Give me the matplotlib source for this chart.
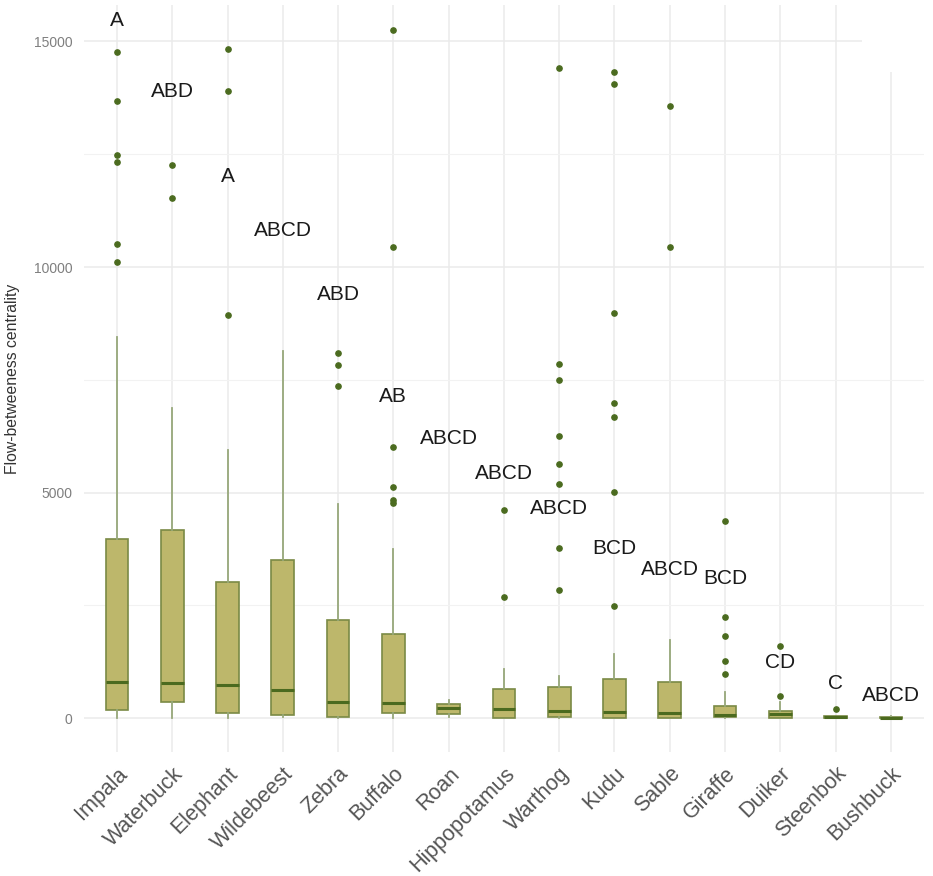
import matplotlib
matplotlib.use("Agg")
import matplotlib.pyplot as plt
from matplotlib.patches import Rectangle
import numpy as np

plt.rcParams['font.family'] = ['Liberation Sans', 'DejaVu Sans']

species = ["Impala", "Waterbuck", "Elephant", "Wildebeest", "Zebra", "Buffalo", "Roan",
           "Hippopotamus", "Warthog", "Kudu", "Sable", "Giraffe", "Duiker", "Steenbok", "Bushbuck"]
q1 = [184, 368, 110, 66, 35, 110, 95, 0, 35, 0, 0, 35, 13, 5, 5]
median = [804, 782, 738, 634, 368, 339, 221, 199, 169, 146, 110, 73, 95, 20, 15]
q3 = [3973, 4180, 3027, 3501, 2178, 1868, 310, 643, 700, 871, 798, 266, 169, 40, 35]
whislo = [0, 0, 0, 20, 0, 0, 35, 0, 0, 0, 0, 0, 0, 0, 0]
whishi = [8450, 6883, 5946, 8140, 4749, 3745, 405, 1092, 937, 1418, 1735, 576, 361, 45, 40]
outliers = [
    [14758, 13680, 12483, 12328, 10510, 10118],
    [12261, 11523],
    [14832, 13908, 8944],
    [],
    [8088, 7836, 7370],
    [15243, 10437, 6005, 5119, 4838, 4778],
    [],
    [4623, 2688],
    [14417, 7845, 7497, 6249, 5635, 5192, 3767, 2836],
    [14322, 14049, 8988, 6980, 6684, 5015, 2488],
    [13575, 10437],
    [4379, 2238, 1824, 1263, 988],
    [1602, 501],
    [213],
    [],
]
letters = ["A", "ABD", "A", "ABCD", "ABD", "AB", "ABCD", "ABCD", "ABCD", "BCD", "ABCD", "BCD", "CD", "C", "ABCD"]
letter_y = [15474, 13886, 12002, 10799, 9402, 7127, 6205, 5429, 4638, 3752, 3286, 3102, 1232, 776, 501]

fig = plt.figure(figsize=(9.33, 8.76), dpi=100)
ax = fig.add_axes([0.0898, 0.1416, 0.9006, 0.8527])

pos = np.arange(1, len(species) + 1)
stats = []
for i in range(len(species)):
    stats.append(dict(med=median[i], q1=q1[i], q3=q3[i], whislo=whislo[i], whishi=whishi[i],
                      fliers=outliers[i], label=species[i]))

ax.bxp(stats, positions=pos, widths=0.41, showcaps=False, patch_artist=True,
       boxprops=dict(facecolor='#bdb76b', edgecolor='#7a8a45', linewidth=1.2),
       whiskerprops=dict(color='#97a87a', linewidth=1.3),
       medianprops=dict(color='#4b6a1f', linewidth=2.2, solid_capstyle='butt'),
       flierprops=dict(marker='o', markersize=3.8, markerfacecolor='#4b6b1f',
                       markeredgecolor='#4b6b1f', linestyle='none'),
       zorder=3)

for i, (t, yv) in enumerate(zip(letters, letter_y)):
    ax.text(pos[i], yv, t, ha='center', va='center', fontsize=15, color='#1a1a1a', zorder=4)

ax.set_xlim(0.4, len(species) + 0.6)
ax.set_ylim(-747, 15807)

# blank patch at top-right corner as in the reference
ax.add_patch(Rectangle((14.48, 14322), 2.0, 3000, facecolor='white', edgecolor='none', zorder=1))

ax.set_yticks([0, 5000, 10000, 15000])
ax.set_yticks([2500, 7500, 12500], minor=True)
ax.set_xticks(pos)
ax.set_xticklabels(species, rotation=45, ha='right', va='top', rotation_mode='anchor',
                   fontsize=15.5, color='#555555')
ax.tick_params(axis='x', length=0, pad=8)
ax.tick_params(axis='y', which='both', length=0, pad=8, labelsize=10, labelcolor='#7f7f7f')

ax.grid(True, which='major', color='#ebebeb', linewidth=1.1, zorder=0)
ax.grid(True, which='minor', axis='y', color='#f2f2f2', linewidth=0.8, zorder=0)
ax.set_axisbelow(True)
for s in ax.spines.values():
    s.set_visible(False)

ax.set_ylabel("Flow-betweeness centrality", fontsize=11.3, color='#333333', labelpad=10)

fig.savefig("out.png", dpi=100)
